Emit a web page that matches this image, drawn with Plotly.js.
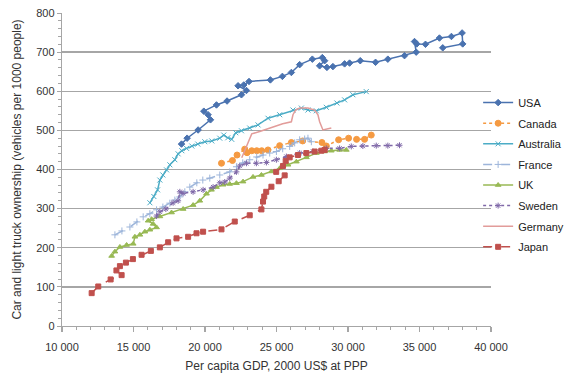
<!DOCTYPE html>
<html>
<head>
<meta charset="utf-8">
<script src="https://cdn.plot.ly/plotly-3.0.1.min.js"></script>
<style>html,body{margin:0;padding:0;background:#fff;}#chart{width:583px;height:384px;}</style>
</head>
<body>
<div id="chart"></div>
<script>
const countries = ["USA", "Canada", "Australia", "France", "UK", "Sweden", "Germany", "Japan"];

const usaGdp = [18359, 18750, 19518, 20384, 20216, 19916, 20803, 21543, 22549, 22898, 22311, 22709, 23079, 24573, 25411, 26040, 26620, 27507, 28205, 28366, 28016, 28526, 28945, 29762, 30111, 30858, 31926, 32785, 33952, 34769, 34650, 34811, 35418, 36395, 37233, 37980, 38022, 36626];
const usaCars = [465, 480, 501, 527, 540, 549, 565, 575, 591, 602, 614, 616, 625, 629, 638, 648, 668, 682, 686, 678, 665, 661, 663, 670, 672, 678, 674, 682, 691, 700, 727, 721, 720, 736, 740, 749, 721, 711];

const canadaGdp = [21152, 21920, 22241, 22779, 22940, 23268, 23617, 23966, 24406, 25223, 26040, 26829, 28177, 28484, 29343, 30041, 30600, 31159, 31626];
const canadaCars = [416, 423, 437, 452, 443, 448, 448, 448, 450, 461, 469, 473, 469, 460, 476, 480, 477, 477, 488];

const australiaGdp = [16145, 16424, 16683, 16843, 17053, 17311, 17542, 17891, 18121, 18380, 18708, 19078, 19497, 19986, 20475, 21033, 21313, 21592, 21871, 22150, 22548, 23128, 23708, 24406, 25223, 26152, 26738, 27199, 27786, 28484, 29224, 29762, 30341, 31277];
const australiaCars = [315, 331, 348, 373, 386, 399, 412, 425, 440, 448, 454, 460, 465, 471, 473, 480, 488, 481, 477, 494, 499, 506, 514, 531, 540, 552, 557, 552, 550, 559, 570, 578, 591, 599];

const franceGdp = [13701, 14190, 14748, 15237, 15677, 16145, 16613, 17053, 17542, 17891, 18240, 18589, 18938, 19427, 19846, 20335, 21033, 21731, 22199, 22639, 23128, 23617, 24057, 24525, 24993, 25433, 25922, 26270, 26620, 26969, 27199, 27437];
const franceCars = [233, 243, 253, 266, 279, 287, 297, 304, 314, 322, 330, 343, 355, 366, 373, 378, 386, 394, 407, 417, 425, 432, 437, 442, 446, 453, 459, 468, 476, 478, 480, 471];

const ukGdp = [13471, 13701, 14050, 14518, 14979, 15098, 15447, 15796, 16145, 16613, 16375, 16026, 16264, 16843, 17660, 18470, 19168, 19637, 20104, 20454, 20803, 21264, 21731, 22199, 22660, 23359, 23945, 24643, 25223, 25802, 26389, 27088, 27786, 28366, 28833, 29413, 29881];
const ukCars = [179, 190, 202, 207, 210, 228, 233, 241, 246, 252, 261, 269, 273, 280, 290, 299, 309, 320, 338, 348, 355, 361, 363, 365, 369, 381, 386, 395, 403, 412, 420, 431, 442, 446, 448, 450, 450];

const swedenGdp = [16613, 16843, 17262, 17772, 18121, 18240, 18470, 19168, 19867, 20565, 21033, 21382, 21731, 22199, 22430, 22898, 23596, 24294, 24993, 25691, 26620, 27549, 28484, 29413, 30230, 31040, 31976, 32785, 33602];
const swedenCars = [281, 292, 299, 315, 320, 343, 339, 343, 348, 355, 366, 368, 378, 394, 409, 416, 416, 418, 425, 433, 442, 446, 454, 454, 459, 460, 461, 461, 462];

const germanyGdp = [22569, 22849, 23128, 23268, 23826, 24755, 25433, 26040, 26152, 26340, 26620, 27199, 27667, 27898, 28016, 28246, 28833];
const germanyCars = [430, 455, 481, 491, 497, 509, 517, 522, 540, 552, 557, 557, 552, 540, 522, 501, 506];

const japanGdp = [12074, 12535, 13401, 14169, 13806, 14050, 14469, 14958, 15565, 16215, 16843, 17423, 18009, 18819, 19406, 19867, 21152, 22081, 23128, 23945, 24057, 24141, 24281, 24644, 25153, 25572, 24979, 25453, 25642, 25922, 26501, 27088, 27667, 28135, 28366];
const japanCars = [84, 101, 119, 130, 142, 153, 162, 171, 182, 192, 201, 214, 224, 228, 237, 241, 247, 267, 283, 298, 318, 331, 343, 356, 370, 385, 394, 409, 422, 431, 437, 442, 446, 448, 450];

const xTickVals = [10000, 15000, 20000, 25000, 30000, 35000, 40000];
const yTickVals = [0, 100, 200, 300, 400, 500, 600, 700, 800];

const xs = [usaGdp, canadaGdp, australiaGdp, franceGdp, ukGdp, swedenGdp, germanyGdp, japanGdp];
const ys = [usaCars, canadaCars, australiaCars, franceCars, ukCars, swedenCars, germanyCars, japanCars];

const styles = [
  {color: "#4A72AF", dash: "solid", symbol: "diamond", size: 5, mode: "lines+markers"},
  {color: "#F59A42", dash: "dot", symbol: "circle", size: 6, mode: "lines+markers"},
  {color: "#4BACC6", dash: "solid", symbol: "x-thin-open", size: 5, mode: "lines+markers"},
  {color: "#9DB5DA", dash: "dash", symbol: "cross-thin-open", size: 5, mode: "lines+markers"},
  {color: "#98B954", dash: "solid", symbol: "triangle-up", size: 5, mode: "lines+markers"},
  {color: "#7F68A8", dash: "dot", symbol: "asterisk-open", size: 5, mode: "lines+markers"},
  {color: "#E29C9A", dash: "solid", symbol: "circle", size: 1, mode: "lines"},
  {color: "#C0504D", dash: "dash", symbol: "square", size: 5, mode: "lines+markers"}
];

const traces = countries.map((name, i) => {
  const s = styles[i];
  return {
    type: "scatter",
    name: name,
    legendgroup: name,
    x: xs[i],
    y: ys[i],
    mode: s.mode,
    line: {color: s.color, width: 1.5, dash: s.dash},
    marker: {color: s.color, symbol: s.symbol, size: s.size, line: {color: s.color, width: 1}}
  };
});

const layout = {
  width: 583,
  height: 384,
  margin: {l: 62, r: 92, t: 13, b: 58},
  paper_bgcolor: "#ffffff",
  plot_bgcolor: "#ffffff",
  separators: ". ",
  font: {family: "Liberation Sans, Arial, sans-serif", size: 11, color: "#333333"},
  showlegend: true,
  legend: {
    x: 0.97, xanchor: "left", y: 0.76, yanchor: "top",
    font: {size: 11, color: "#222222"},
    tracegroupgap: 1.6,
    bgcolor: "rgba(0,0,0,0)"
  },
  xaxis: {
    range: [10000, 40000],
    tickvals: xTickVals,
    tickformat: ",d",
    showgrid: false,
    zeroline: false,
    showline: true,
    linecolor: "#a6a6a6",
    linewidth: 1.3,
    ticks: "outside",
    ticklen: 5,
    tickcolor: "#a6a6a6",
    tickwidth: 1.3,
    ticklabelstandoff: 5,
    minor: {dtick: 1000, ticks: "outside", ticklen: 3, tickcolor: "#a6a6a6", tickwidth: 1, showgrid: false},
    tickfont: {size: 11, color: "#333333"},
    title: {text: "Per capita GDP, 2000 US$ at PPP", font: {size: 12, color: "#333333"}, standoff: 10}
  },
  yaxis: {
    range: [0, 800],
    tickvals: yTickVals,
    showgrid: true,
    gridcolor: "#a6a6a6",
    gridwidth: 1.3,
    zeroline: false,
    showline: true,
    linecolor: "#a6a6a6",
    linewidth: 1.3,
    ticks: "outside",
    ticklen: 4,
    tickcolor: "#a6a6a6",
    minor: {dtick: 20, ticks: "outside", ticklen: 3, tickcolor: "#a6a6a6", tickwidth: 1, showgrid: false},
    tickfont: {size: 11, color: "#333333"},
    title: {text: "Car and light truck ownership (vehicles per 1000 people)", font: {size: 12, color: "#333333"}, standoff: 12}
  }
};

Plotly.newPlot("chart", traces, layout, {displayModeBar: false, staticPlot: true});
</script>
</body>
</html>
